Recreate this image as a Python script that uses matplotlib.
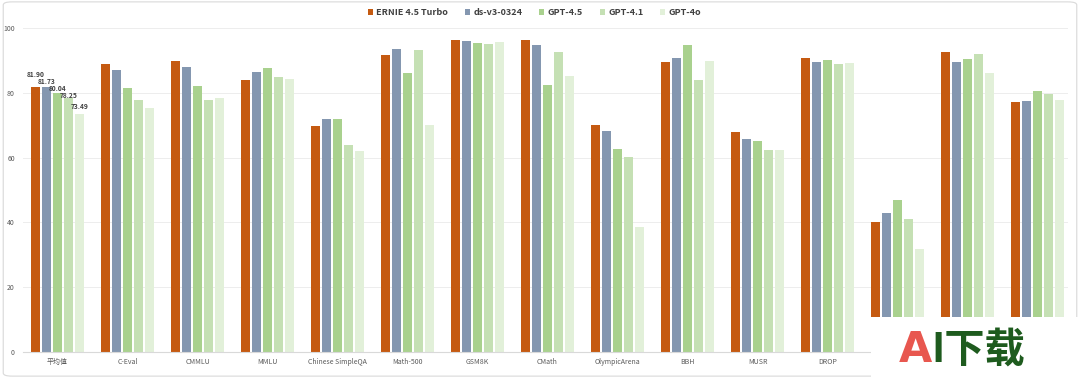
#!/usr/bin/env python3
"""ERNIE 4.5 Turbo vs. other models, grouped bar chart."""

import matplotlib

matplotlib.use("Agg")
import matplotlib.pyplot as plt
import numpy as np
from matplotlib.patches import FancyBboxPatch, Rectangle

plt.rcParams["font.family"] = ["Noto Sans CJK SC", "DejaVu Sans"]

categories = [
    "平均值", "C-Eval", "CMMLU", "MMLU", "Chinese SimpleQA", "Math-500", "GSM8K",
    "CMath", "OlympicArena", "BBH", "MUSR", "DROP",
    "LiveCodeBench\n2024.08-2025.02", "IFEval", "Multi-IF",
]
models = ["ERNIE 4.5 Turbo", "ds-v3-0324", "GPT-4.5", "GPT-4.1", "GPT-4o"]
colors = ["#C55A11", "#8497B0", "#A9D18E", "#C5E0B4", "#E2F0D9"]

ernie = [81.90, 88.8, 89.8, 83.8, 69.9, 91.7, 96.2, 96.2, 70.1, 89.5, 67.8, 90.7, 40.2, 92.5, 77.3]
ds_v3 = [81.73, 87.1, 88.0, 86.3, 71.9, 93.6, 96.0, 94.6, 68.2, 90.8, 65.8, 89.5, 42.8, 89.5, 77.6]
gpt45 = [80.04, 81.5, 82.2, 87.8, 71.9, 86.1, 95.4, 82.4, 62.7, 94.6, 65.0, 90.2, 46.9, 90.3, 80.5]
gpt41 = [78.25, 77.8, 77.9, 84.8, 63.8, 93.2, 95.0, 92.6, 60.3, 84.0, 62.5, 89.0, 41.0, 91.9, 79.6]
gpt4o = [73.49, 75.4, 78.5, 84.2, 62.0, 70.2, 95.6, 85.1, 38.6, 89.8, 62.5, 89.1, 31.7, 86.1, 77.7]
series = [ernie, ds_v3, gpt45, gpt41, gpt4o]

# stagger of the average labels (points above bar top)
label_dy = [8.5, 4.0, 2.7, 2.2, 5.0]


def main() -> None:
    fig = plt.figure(figsize=(10.8, 3.78), dpi=100)
    # category spacing 70 px, first group centred at x=57.5 px
    ax = fig.add_axes([23.2 / 1080, 26 / 378, 1044.4 / 1080, 324 / 378])

    x = np.arange(len(categories))
    step = 0.157
    width = 0.119
    for i, (name, vals, c) in enumerate(zip(models, series, colors)):
        pos = x + (i - 2) * step
        ax.bar(pos, vals, width=width, color=c, label=name, zorder=2)
        ax.annotate(f"{vals[0]:.2f}", (pos[0], vals[0]), xytext=(0, label_dy[i]),
                    textcoords="offset points", ha="center", va="center",
                    fontsize=4.8, fontweight="bold", color="#404040")

    ax.set_xlim(-0.49, 14.43)
    ax.set_ylim(0, 100)
    ax.set_yticks(range(0, 101, 20))
    ax.set_xticks(x)
    ax.set_xticklabels(categories, fontsize=5, color="#595959", linespacing=1.1)
    ax.tick_params(axis="y", labelsize=5, colors="#595959", length=0, pad=6)
    ax.tick_params(axis="x", length=0, pad=4)
    ax.grid(axis="y", color="#EDEDED", linewidth=0.7, zorder=0)
    for s in ("top", "right", "left"):
        ax.spines[s].set_visible(False)
    ax.spines["bottom"].set_color("#D9D9D9")
    ax.spines["bottom"].set_linewidth(0.8)

    fig.legend(loc="center", bbox_to_anchor=(0.495, 0.967), ncol=5, frameon=False,
               handlelength=0.55, handleheight=0.55, handletextpad=0.35,
               columnspacing=1.9, prop={"weight": "bold", "size": 6.5},
               labelcolor="#404040")

    # outer frame
    fig.patches.append(FancyBboxPatch((0.003, 0.005), 0.994, 0.99,
                                      boxstyle="round,pad=0,rounding_size=0.008",
                                      transform=fig.transFigure, fill=False,
                                      edgecolor="#D9D9D9", linewidth=0.8))

    # watermark block in the bottom-right corner
    fig.patches.append(Rectangle((871 / 1080, 0.0), 1 - 871 / 1080, 61 / 378,
                                 transform=fig.transFigure,
                                 facecolor="white", edgecolor="none", zorder=5))
    fig.text(915 / 1080, 0.074, "A", fontsize=31, fontweight="bold", color="#E8574F",
             ha="center", va="center", zorder=6, family="DejaVu Sans")
    fig.text(931 / 1080, 0.074, "I下载", fontsize=29, fontweight="bold", color="#1E5B1E",
             ha="left", va="center", zorder=6)

    fig.savefig("out.png", dpi=100)


if __name__ == "__main__":
    main()
